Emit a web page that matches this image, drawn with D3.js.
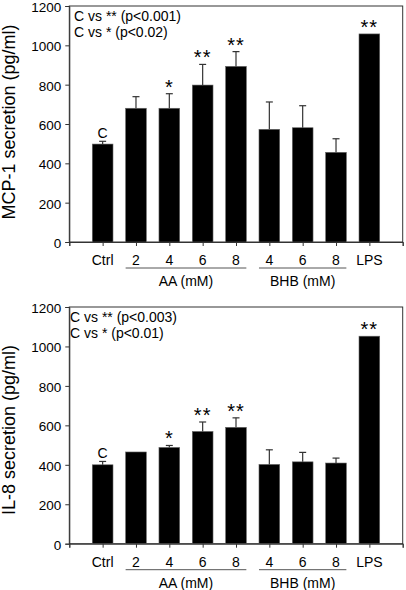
<!DOCTYPE html>
<html><head><meta charset="utf-8">
<script src="https://cdn.jsdelivr.net/npm/d3@7"></script>
<style>body{margin:0;background:#fff}svg{display:block;font-family:"Liberation Sans",Arial,sans-serif}</style>
</head><body>
<svg id="c" width="406" height="590"></svg>
<script>
const categories = ["Ctrl","2","4","6","8","4","6","8","LPS"];
const groups = [{label:"AA (mM)", from:1, to:4},{label:"BHB (mM)", from:5, to:7}];
const yTicks = [0,200,400,600,800,1000,1200];

const mcp1Values = [498, 680, 680, 798, 893, 573, 581, 456, 1058];
const mcp1Errors = [14, 59, 74, 105, 75, 139, 112, 69, 0];
const mcp1Marks  = ["C","","*","**","**","","","","**"];
const mcp1Notes  = ["C vs ** (p<0.001)","C vs * (p<0.02)"];

const il8Values = [400, 465, 488, 569, 590, 402, 415, 409, 1052];
const il8Errors = [17, 0, 10, 48, 48, 74, 48, 25, 0];
const il8Marks  = ["C","","*","**","**","","","","**"];
const il8Notes  = ["C vs ** (p<0.003)","C vs * (p<0.01)"];

const svg = d3.select("#c");

function panel(cfg){
  const g = svg.append("g");
  const x = d3.scaleLinear().domain([0,10]).range([69.3,402.7]);
  const y = d3.scaleLinear().domain([0,1200]).range([cfg.bottom,cfg.top]);
  const bw = 20.7;

  g.append("rect").attr("x",x(0)).attr("y",y(1200)).attr("width",x(10)-x(0)).attr("height",y(0)-y(1200))
    .attr("fill","none").attr("stroke","#333").attr("stroke-width",1);

  g.selectAll(".bar").data(cfg.values).join("rect")
    .attr("x",(d,i)=>x(i+1)-bw/2).attr("y",d=>y(d))
    .attr("width",bw).attr("height",d=>y(0)-y(d))
    .attr("fill","#000").attr("stroke","#666").attr("stroke-width",0.6);

  cfg.values.forEach((v,i)=>{
    const e = cfg.errors[i];
    if(!e) return;
    const cx = x(i+1);
    g.append("line").attr("x1",cx).attr("x2",cx).attr("y1",y(v)).attr("y2",y(v+e)).attr("stroke","#333").attr("stroke-width",1.2);
    g.append("line").attr("x1",cx-3.5).attr("x2",cx+3.5).attr("y1",y(v+e)).attr("y2",y(v+e)).attr("stroke","#333").attr("stroke-width",1.2);
  });

  cfg.marks.forEach((m,i)=>{
    if(!m) return;
    const topV = cfg.values[i]+cfg.errors[i];
    const isStar = m.indexOf("*")>=0;
    g.append("text").attr("x",x(i+1)).attr("y",y(topV)-(isStar?0:3))
      .attr("text-anchor","middle").attr("font-size",isStar?20:14)
      .attr("letter-spacing",isStar?1:0)
      .attr("fill","#000").text(m);
  });

  const ya = g.append("g").attr("transform",`translate(${x(0)},0)`)
    .call(d3.axisLeft(y).tickValues(yTicks).tickSize(4).tickPadding(4).tickFormat(d3.format("d")));
  ya.select(".domain").attr("stroke","#333");
  ya.selectAll(".tick line").attr("stroke","#333");
  ya.selectAll("text").attr("font-size",13.5).attr("dy","0.4em").attr("font-family","Liberation Sans, Arial, sans-serif").attr("fill","#000");

  const xa = g.append("g").attr("transform",`translate(0,${y(0)})`)
    .call(d3.axisBottom(x).tickValues(d3.range(0,11)).tickSize(4).tickFormat(""));
  xa.select(".domain").attr("stroke","#333");
  xa.selectAll(".tick line").attr("stroke","#333");

  categories.forEach((c,i)=>{
    g.append("text").attr("x",x(i+1)).attr("y",y(0)+23).attr("text-anchor","middle")
      .attr("font-size",14).attr("fill","#000").text(c);
  });
  groups.forEach(gr=>{
    g.append("line").attr("x1",x(gr.from+1)-bw/2).attr("x2",x(gr.to+1)+bw/2)
      .attr("y1",y(0)+26).attr("y2",y(0)+26).attr("stroke","#555").attr("stroke-width",1);
    g.append("text").attr("x",(x(gr.from+1)+x(gr.to+1))/2).attr("y",y(0)+44)
      .attr("text-anchor","middle").attr("font-size",14).attr("fill","#000").text(gr.label);
  });

  cfg.notes.forEach((n,j)=>{
    g.append("text").attr("x",cfg.noteX).attr("y",y(1200)+15+j*16)
      .attr("font-size",14).attr("fill","#000").text(n);
  });

  g.append("text").attr("transform",`translate(15,${cfg.titleY}) rotate(-90)`)
    .attr("text-anchor","middle").attr("font-size",18).attr("fill","#000").text(cfg.title);
}

panel({top:6,bottom:242,values:mcp1Values,errors:mcp1Errors,marks:mcp1Marks,notes:mcp1Notes,noteX:74,titleY:122,title:"MCP-1 secretion (pg/ml)"});
panel({top:307,bottom:543.7,values:il8Values,errors:il8Errors,marks:il8Marks,notes:il8Notes,noteX:70,titleY:430,title:"IL-8 secretion (pg/ml)"});
</script>
</body></html>
